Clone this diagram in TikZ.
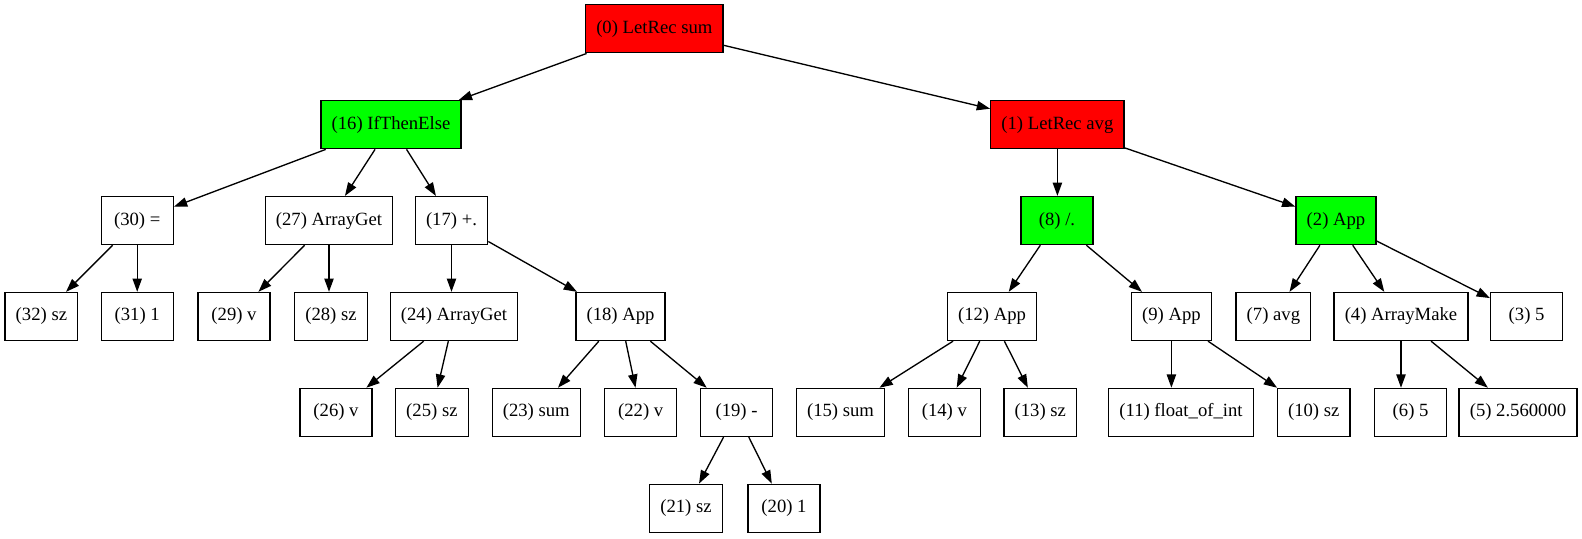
\documentclass[tikz,border=0pt]{standalone}
\usepackage{fontspec}
\setmainfont{Liberation Serif}
\usetikzlibrary{arrows.meta}
\tikzset{
  box/.style={draw=black, line width=1pt, rectangle, minimum height=36pt, minimum width=54pt, inner xsep=8pt, font=\fontsize{14}{16}\selectfont, fill=white},
  redbox/.style={box, fill=red},
  greenbox/.style={box, fill=green},
  edge/.style={draw=black, line width=1pt, -{Triangle[length=10pt,width=7pt]}}
}
\begin{document}
\begin{tikzpicture}[x=0.75pt,y=-0.75pt]
\useasboundingbox (0,0) rectangle (1582,539);
\def\ra{28.8}\def\rb{124.7}\def\rc{220.6}\def\rd{316.5}\def\re{412.4}\def\rf{508.3}
\node[redbox] (n0) at (654.3,\ra) {(0) LetRec sum};
\node[greenbox] (n16) at (391,\rb) {(16) IfThenElse};
\node[redbox] (n1) at (1057.4,\rb) {(1) LetRec avg};
\node[box] (n30) at (137.2,\rc) {(30) =};
\node[box] (n27) at (329,\rc) {(27) ArrayGet};
\node[box] (n17) at (451.5,\rc) {(17) +.};
\node[greenbox] (n8) at (1057,\rc) {(8) /.};
\node[greenbox] (n2) at (1336,\rc) {(2) App};
\node[box] (n32) at (41.4,\rd) {(32) sz};
\node[box] (n31) at (137.2,\rd) {(31) 1};
\node[box] (n29) at (234,\rd) {(29) v};
\node[box] (n28) at (331,\rd) {(28) sz};
\node[box] (n24) at (454,\rd) {(24) ArrayGet};
\node[box] (n18) at (620.5,\rd) {(18) App};
\node[box] (n12) at (992,\rd) {(12) App};
\node[box] (n9) at (1171.4,\rd) {(9) App};
\node[box] (n7) at (1273.4,\rd) {(7) avg};
\node[box] (n4) at (1401,\rd) {(4) ArrayMake};
\node[box] (n3) at (1526.6,\rd) {(3) 5};
\node[box] (n26) at (336,\re) {(26) v};
\node[box] (n25) at (431.9,\re) {(25) sz};
\node[box] (n23) at (536.3,\re) {(23) sum};
\node[box] (n22) at (640.7,\re) {(22) v};
\node[box] (n19) at (736.6,\re) {(19) -};
\node[box] (n15) at (840.5,\re) {(15) sum};
\node[box] (n14) at (944.4,\re) {(14) v};
\node[box] (n13) at (1040.3,\re) {(13) sz};
\node[box] (n11) at (1181,\re) {(11) float\_of\_int};
\node[box] (n10) at (1313.7,\re) {(10) sz};
\node[box] (n6) at (1410.6,\re) {(6) 5};
\node[box] (n5) at (1518,\re) {(5) 2.560000};
\node[box] (n21) at (686,\rf) {(21) sz};
\node[box] (n20) at (784,\rf) {(20) 1};
\foreach \a/\b in {n0/n16,n0/n1,n16/n30,n16/n27,n16/n17,n30/n32,n27/n29,n17/n18,n24/n26,n24/n25,n18/n23,n18/n22,n18/n19,n19/n21,n19/n20,n1/n2,n8/n12,n8/n9,n12/n15,n12/n14,n12/n13,n9/n10,n2/n7,n2/n4,n2/n3,n4/n5}
  \draw[edge] (\a) -- (\b);
\foreach \a/\b in {n30/n31,n27/n28,n17/n24,n1/n8,n9/n11,n4/n6}
  \draw[edge] (\a.south) -- (\a.south |- \b.north);
\end{tikzpicture}
\end{document}
